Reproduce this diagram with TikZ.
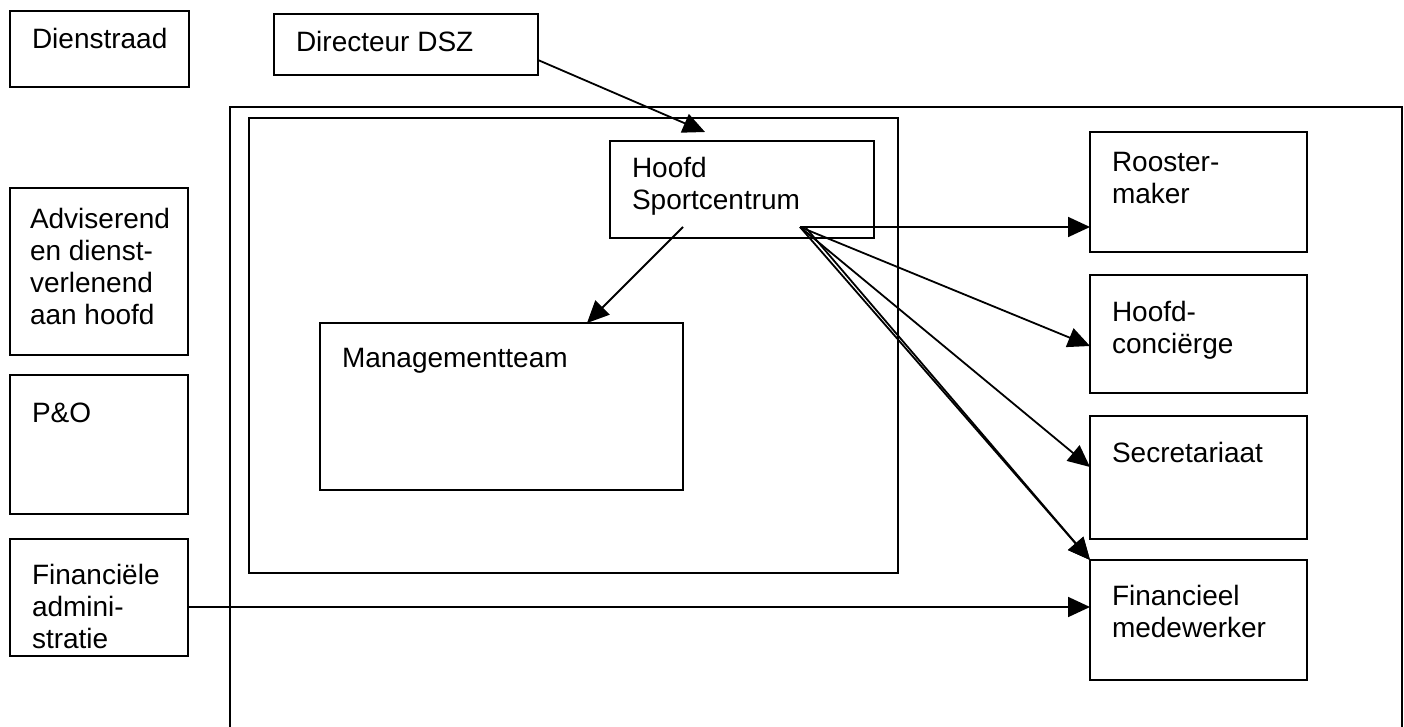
\documentclass[tikz,border=0pt]{standalone}
\usepackage{fontspec}
\setmainfont{Liberation Sans}
\usetikzlibrary{arrows.meta,calc}
\newcommand{\tst}{\rule{0pt}{22pt}}
\begin{document}
\begin{tikzpicture}[x=1pt,y=-1pt,
  box/.style={draw, line width=1.8pt, inner sep=0pt, outer sep=0pt, anchor=north west},
  lbl/.style={anchor=north west, inner sep=0pt, outer sep=0pt, align=left, font=\fontsize{28}{32}\selectfont},
  conn/.style={draw, line width=1.8pt, -{Triangle[length=22pt,width=20pt]}}]
\path[use as bounding box, clip] (0,0) rectangle (1404,727);
% boxes
\node[box, minimum width=1172pt, minimum height=720pt] (outer) at (230,107) {};
\node[box, minimum width=649pt, minimum height=455pt] (inner) at (249,118) {};
\node[box, minimum width=179pt, minimum height=76pt] (dien) at (10,11) {};
\node[box, minimum width=264pt, minimum height=61pt] (dir) at (274,14) {};
\node[box, minimum width=264pt, minimum height=97pt] (hoofd) at (610,141) {};
\node[box, minimum width=363pt, minimum height=167pt] (mt) at (320,323) {};
\node[box, minimum width=217pt, minimum height=120pt] (rooster) at (1090,132) {};
\node[box, minimum width=217pt, minimum height=118pt] (conc) at (1090,275) {};
\node[box, minimum width=217pt, minimum height=123pt] (secr) at (1090,416) {};
\node[box, minimum width=217pt, minimum height=120pt] (fin) at (1090,560) {};
\node[box, minimum width=178pt, minimum height=167pt] (adv) at (10,188) {};
\node[box, minimum width=178pt, minimum height=139pt] (po) at (10,375) {};
\node[box, minimum width=178pt, minimum height=117pt] (fa) at (10,539) {};
% texts
\node[lbl] (tdien) at (32,27) {\tst Dienstraad};
\node[lbl] (tdir) at (296,30) {\tst Directeur DSZ};
\node[lbl] (thoofd) at (632,156) {\tst Hoofd\\Sportcentrum};
\node[lbl] (tmt) at (342,345) {\tst Managementteam};
\node[lbl] (troos) at (1112,150) {\tst Rooster-\\maker};
\node[lbl] (tconc) at (1112,299) {\tst Hoofd-\\conciërge};
\node[lbl] (tsecr) at (1112,440) {\tst Secretariaat};
\node[lbl] (tfin) at (1112,583) {\tst Financieel\\medewerker};
\node[lbl] (tadv) at (30,206) {\tst Adviserend\\en dienst-\\verlenend\\aan hoofd};
\node[lbl] (tpo) at (32,400) {\tst P\&O};
\node[lbl] (tfa) at (32,562) {\tst Financiële\\admini-\\stratie};
% connectors
\coordinate (hub) at ($(hoofd.south west)+(190,-11)$);
\coordinate (hub2) at ($(hoofd.south west)+(196,-10)$);
\draw[conn] ($(dir.south east)+(0,-15)$) -- ($(hoofd.north west)+(95,-9)$);
\draw[conn] ($(hoofd.south west)+(73,-11)$) -- ($(mt.north west)+(267,0)$);
\draw[conn] (hub) -- ($(rooster.south west)+(0,-25)$);
\draw[conn] (hub) -- ($(conc.north west)+(0,71)$);
\draw[conn] (hub) -- ($(secr.north west)+(0,51)$);
\draw[conn] (hub) -- (fin.north west);
\draw[conn] (hub2) -- (fin.north west);
\draw[conn] ($(fa.east)+(0,9.5)$) -- ($(fin.north west)+(0,47)$);
\end{tikzpicture}
\end{document}
